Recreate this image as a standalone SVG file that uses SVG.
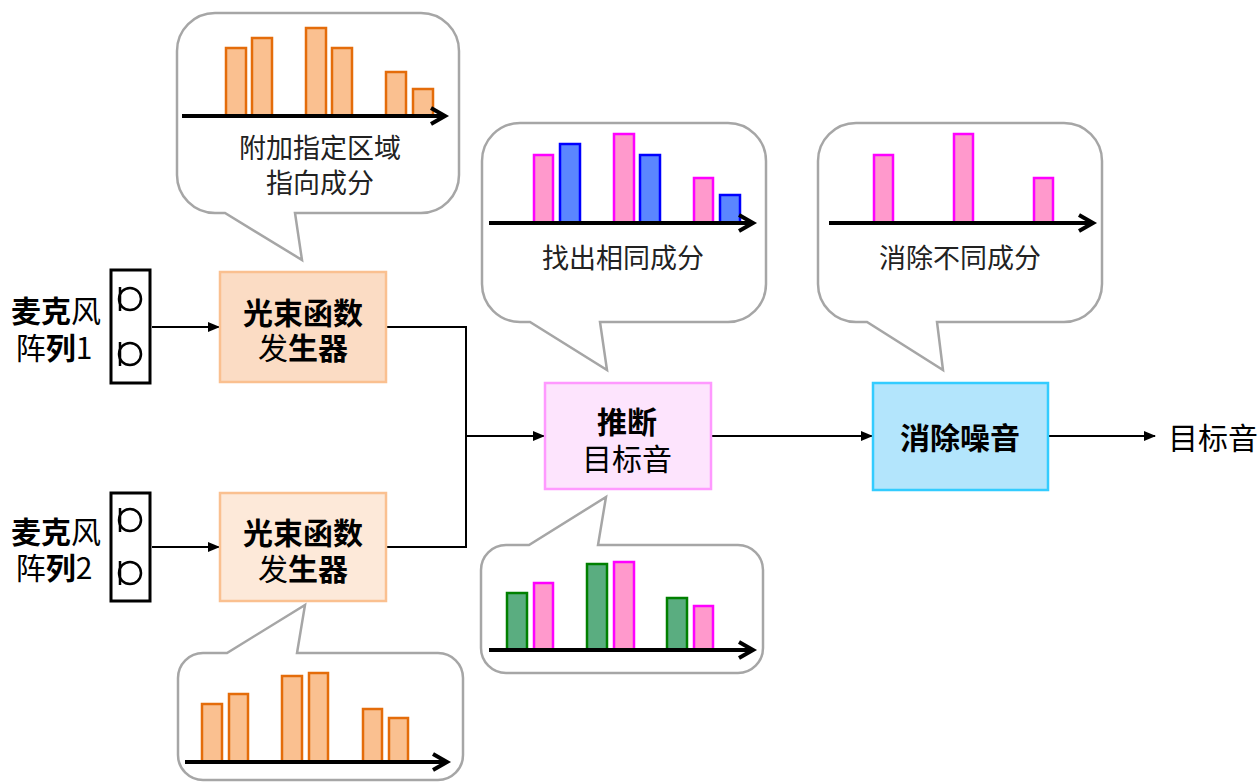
<svg xmlns="http://www.w3.org/2000/svg" width="1257" height="783" viewBox="0 0 1257 783">
<style>
text{font-family:"Noto Sans CJK SC","Noto Sans",sans-serif;fill:#000;dominant-baseline:central;text-anchor:middle}
.b{font-weight:bold}
.lab{font-size:30px}
.cap{font-size:27px;fill:#222}
.call{fill:#fff;stroke:#a6a6a6;stroke-width:2.5}
.ax{fill:none;stroke:#000;stroke-width:4}
.or{fill:#fac090;stroke:#e46c0a;stroke-width:2.5}
.pk{fill:#ff99cc;stroke:#ff00ff;stroke-width:2.5}
.bl{fill:#5b86ff;stroke:#0000ff;stroke-width:2.5}
.gr{fill:#5aad80;stroke:#008000;stroke-width:2.5}
.mic{fill:#fff;stroke:#000;stroke-width:3}
.mc{fill:none;stroke:#000;stroke-width:2.5}
.con{fill:none;stroke:#000;stroke-width:2}
</style>
<defs>
<marker id="ar" markerWidth="12" markerHeight="10" refX="11" refY="5" orient="auto" markerUnits="userSpaceOnUse">
<path d="M0,0 L12,5 L0,10 Z" fill="#000"/>
</marker>
</defs>

<g id="connectors">
<line class="con" x1="152" y1="327" x2="219" y2="327" marker-end="url(#ar)"/>
<line class="con" x1="152" y1="547" x2="219" y2="547" marker-end="url(#ar)"/>
<polyline class="con" points="386,327 466,327 466,547 386,547"/>
<line class="con" x1="466" y1="436" x2="544" y2="436" marker-end="url(#ar)"/>
<line class="con" x1="711" y1="436" x2="872" y2="436" marker-end="url(#ar)"/>
<line class="con" x1="1048" y1="436" x2="1155" y2="436" marker-end="url(#ar)"/>
</g>

<g id="callout-top-left">
<path class="call" d="M215,13 H421 A38,38 0 0 1 459,51 V175 A38,38 0 0 1 421,213 H295 L302,260 L225,213 H215 A38,38 0 0 1 177,175 V51 A38,38 0 0 1 215,13 Z"/>
<rect class="or" x="226" y="48" width="20" height="68"/>
<rect class="or" x="252" y="38" width="20" height="78"/>
<rect class="or" x="306" y="28" width="20" height="88"/>
<rect class="or" x="332" y="48" width="20" height="68"/>
<rect class="or" x="386" y="72" width="20" height="44"/>
<rect class="or" x="413" y="89" width="20" height="27"/>
<line class="ax" x1="182" y1="116" x2="445" y2="116"/>
<polyline class="ax" points="431,108 445,116 431,124"/>
<text class="cap" x="320" y="146">附加指定区域</text>
<text class="cap" x="320" y="181">指向成分</text>
</g>

<g id="callout-top-mid">
<path class="call" d="M520,123 H728 A38,38 0 0 1 766,161 V284 A38,38 0 0 1 728,322 H600 L607,370 L530,322 H520 A38,38 0 0 1 482,284 V161 A38,38 0 0 1 520,123 Z"/>
<rect class="pk" x="534" y="155" width="19" height="68"/>
<rect class="bl" x="560" y="144" width="20" height="79"/>
<rect class="pk" x="614" y="134" width="20" height="89"/>
<rect class="bl" x="640" y="155" width="20" height="68"/>
<rect class="pk" x="694" y="178" width="19" height="45"/>
<rect class="bl" x="720" y="195" width="20" height="28"/>
<line class="ax" x1="489" y1="223" x2="753" y2="223"/>
<polyline class="ax" points="739,215 753,223 739,231"/>
<text class="cap" x="623" y="256">找出相同成分</text>
</g>

<g id="callout-top-right">
<path class="call" d="M856,123 H1064 A38,38 0 0 1 1102,161 V284 A38,38 0 0 1 1064,322 H937 L943,370 L867,322 H856 A38,38 0 0 1 818,284 V161 A38,38 0 0 1 856,123 Z"/>
<rect class="pk" x="874" y="155" width="19" height="68"/>
<rect class="pk" x="954" y="134" width="19" height="89"/>
<rect class="pk" x="1034" y="178" width="19" height="45"/>
<line class="ax" x1="829" y1="223" x2="1093" y2="223"/>
<polyline class="ax" points="1079,215 1093,223 1079,231"/>
<text class="cap" x="960" y="256">消除不同成分</text>
</g>

<g id="callout-bottom-mid">
<path class="call" d="M506,545 H529 L606,497 L598,545 H738 A25,25 0 0 1 763,570 V648 A25,25 0 0 1 738,673 H506 A25,25 0 0 1 481,648 V570 A25,25 0 0 1 506,545 Z"/>
<rect class="gr" x="507" y="593" width="20" height="57"/>
<rect class="pk" x="534" y="583" width="19" height="67"/>
<rect class="gr" x="587" y="564" width="20" height="86"/>
<rect class="pk" x="614" y="562" width="20" height="88"/>
<rect class="gr" x="667" y="598" width="20" height="52"/>
<rect class="pk" x="694" y="606" width="19" height="44"/>
<line class="ax" x1="489" y1="650" x2="753" y2="650"/>
<polyline class="ax" points="739,642 753,650 739,658"/>
</g>

<g id="callout-bottom-left">
<path class="call" d="M203,653 H227 L305,605 L297,653 H438 A25,25 0 0 1 463,678 V755 A25,25 0 0 1 438,780 H203 A25,25 0 0 1 178,755 V678 A25,25 0 0 1 203,653 Z"/>
<rect class="or" x="202" y="704" width="20" height="58"/>
<rect class="or" x="229" y="694" width="19" height="68"/>
<rect class="or" x="282" y="676" width="20" height="86"/>
<rect class="or" x="309" y="673" width="19" height="89"/>
<rect class="or" x="363" y="709" width="19" height="53"/>
<rect class="or" x="389" y="718" width="19" height="44"/>
<line class="ax" x1="185" y1="762" x2="447" y2="762"/>
<polyline class="ax" points="433,754 447,762 433,770"/>
</g>

<g id="mic-label-1">
<text class="lab" x="56" y="309"><tspan class="b">麦克</tspan>风</text>
<text class="lab" x="54" y="346">阵<tspan class="b">列</tspan>1</text>
</g>
<g id="mic-array-1">
<rect class="mic" x="111" y="270" width="39" height="113"/>
<circle class="mc" cx="130" cy="299" r="11"/>
<line class="mc" x1="120" y1="287" x2="120" y2="311"/>
<circle class="mc" cx="130" cy="354" r="11"/>
<line class="mc" x1="120" y1="342" x2="120" y2="366"/>
</g>

<g id="mic-label-2">
<text class="lab" x="56" y="530"><tspan class="b">麦克</tspan>风</text>
<text class="lab" x="54" y="566">阵<tspan class="b">列</tspan>2</text>
</g>
<g id="mic-array-2">
<rect class="mic" x="111" y="493" width="39" height="108"/>
<circle class="mc" cx="130" cy="520" r="11"/>
<line class="mc" x1="120" y1="508" x2="120" y2="532"/>
<circle class="mc" cx="130" cy="573" r="11"/>
<line class="mc" x1="120" y1="561" x2="120" y2="585"/>
</g>

<g id="beam-1">
<rect x="220" y="272" width="166" height="110" fill="#fbdcc4" stroke="#fac090" stroke-width="2.5"/>
<text class="lab" x="303" y="311"><tspan class="b">光束函数</tspan></text>
<text class="lab" x="303" y="346">发<tspan class="b">生器</tspan></text>
</g>

<g id="beam-2">
<rect x="220" y="493" width="166" height="108" fill="#fde9d9" stroke="#fac090" stroke-width="2.5"/>
<text class="lab" x="303" y="531"><tspan class="b">光束函数</tspan></text>
<text class="lab" x="303" y="567">发<tspan class="b">生器</tspan></text>
</g>

<g id="estimate">
<rect x="545" y="383" width="166" height="106" fill="#fde4fd" stroke="#ff99ff" stroke-width="2.5"/>
<text class="lab b" x="627" y="420">推断</text>
<text class="lab" x="627" y="457">目标音</text>
</g>

<g id="denoise">
<rect x="873" y="383" width="175" height="107" fill="#b3e5fc" stroke="#33ccff" stroke-width="2.5"/>
<text class="lab b" x="960" y="436">消除噪音</text>
</g>

<g id="output">
<text class="lab" x="1168" y="436" style="text-anchor:start">目标音</text>
</g>
</svg>
